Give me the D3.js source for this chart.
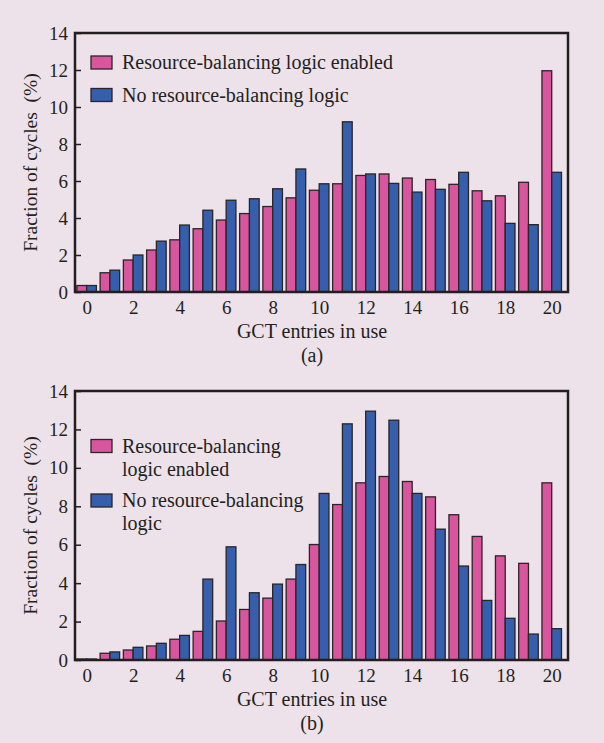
<!DOCTYPE html>
<html>
<head>
<meta charset="utf-8">
<script src="https://cdn.jsdelivr.net/npm/d3@7/dist/d3.min.js"></script>
<style>
  html, body { margin: 0; padding: 0; background: #ede2e9; }
  svg { display: block; }
  text { font-family: "Liberation Serif", "Times New Roman", serif; fill: #231f20; }
</style>
</head>
<body>
<svg id="chart" width="604" height="743"></svg>
<script>
// ---- Data ----
const categories = d3.range(0, 21); // GCT entries in use 0..20
const yTicks = [0, 2, 4, 6, 8, 10, 12, 14];
const xTicks = [0, 2, 4, 6, 8, 10, 12, 14, 16, 18, 20];

// Chart (a)
const aEnabled = [0.35, 1.04, 1.73, 2.27, 2.82, 3.42, 3.89, 4.24, 4.62, 5.09, 5.5,
                  5.85, 6.3, 6.38, 6.16, 6.08, 5.82, 5.47, 5.2, 5.93, 11.96];
const aNone    = [0.35, 1.18, 2.0, 2.75, 3.62, 4.42, 4.96, 5.04, 5.58, 6.65, 5.85,
                  9.2, 6.38, 5.87, 5.4, 5.55, 6.47, 4.93, 3.71, 3.64, 6.47];
// Chart (b)
const bEnabled = [0.05, 0.35, 0.52, 0.73, 1.08, 1.49, 2.03, 2.63, 3.22, 4.21, 6.01,
                  8.09, 9.22, 9.55, 9.29, 8.49, 7.56, 6.43, 5.42, 5.03, 9.22];
const bNone    = [0.05, 0.42, 0.66, 0.87, 1.28, 4.21, 5.89, 3.5, 3.95, 4.97, 8.67,
                  12.29, 12.95, 12.48, 8.67, 6.81, 4.89, 3.1, 2.17, 1.35, 1.63];

const seriesNames = ["Resource-balancing logic enabled", "No resource-balancing logic"];
const legendLinesA = [["Resource-balancing logic enabled"], ["No resource-balancing logic"]];
const legendLinesB = [["Resource-balancing", "logic enabled"], ["No resource-balancing", "logic"]];
const colors = ["#d9569f", "#355eac"];

const svg = d3.select("#chart");

function drawChart(cfg) {
  const g = svg.append("g");
  const x = d3.scaleLinear().domain([-0.5, 20.7]).range([cfg.left, cfg.right]);
  const y = d3.scaleLinear().domain([0, 14]).range([cfg.bottom, cfg.top]);
  const step = x(1) - x(0);
  const bw = step * 0.42;

  const series = [cfg.enabled, cfg.none];
  series.forEach((vals, si) => {
    g.append("g").selectAll("rect").data(categories).join("rect")
      .attr("x", d => si === 0 ? x(d) - bw : x(d))
      .attr("y", d => y(vals[d]))
      .attr("width", bw)
      .attr("height", d => y(0) - y(vals[d]))
      .attr("fill", colors[si])
      .attr("stroke", "#2a2526")
      .attr("stroke-width", 1.3);
  });

  // Y axis (ticks inside)
  const yAxis = d3.axisLeft(y).tickValues(yTicks).tickSize(-6).tickPadding(7);
  const ya = g.append("g").attr("transform", `translate(${cfg.left},0)`).call(yAxis);
  ya.select(".domain").remove();
  ya.selectAll("line").attr("stroke", "#231f20").attr("stroke-width", 1.5);
  ya.selectAll("text").attr("font-size", 19).attr("font-family", "Liberation Serif").attr("fill", "#231f20");

  // X axis labels
  const xAxis = d3.axisBottom(x).tickValues(xTicks).tickSize(0).tickPadding(9).tickFormat(d3.format("d"));
  const xa = g.append("g").attr("transform", `translate(0,${cfg.bottom})`).call(xAxis);
  xa.select(".domain").remove();
  xa.selectAll("text").attr("font-size", 19).attr("font-family", "Liberation Serif").attr("fill", "#231f20");

  // Frame
  g.append("rect")
    .attr("x", cfg.left).attr("y", cfg.top)
    .attr("width", cfg.right - cfg.left).attr("height", cfg.bottom - cfg.top)
    .attr("fill", "none").attr("stroke", "#231f20").attr("stroke-width", 2.5);

  // Axis titles
  g.append("text")
    .attr("transform", `translate(37,${(cfg.top + cfg.bottom) / 2}) rotate(-90)`)
    .attr("text-anchor", "middle").attr("font-size", 19.5)
    .style("white-space", "pre")
    .text("Fraction of cycles  (%)");
  g.append("text")
    .attr("x", 312).attr("y", cfg.bottom + 46)
    .attr("text-anchor", "middle").attr("font-size", 20)
    .text("GCT entries in use");
  g.append("text")
    .attr("x", 312).attr("y", cfg.bottom + 70)
    .attr("text-anchor", "middle").attr("font-size", 20)
    .text(cfg.label);

  // Legend
  cfg.legend.forEach((lines, i) => {
    const cy = cfg.legendY[i];
    g.append("rect")
      .attr("x", 91).attr("y", cy - 6.5).attr("width", 21).attr("height", 13)
      .attr("fill", colors[i]).attr("stroke", "#2a2526").attr("stroke-width", 1.3);
    lines.forEach((ln, j) => {
      g.append("text")
        .attr("x", 122).attr("y", cy + 6.5 + j * cfg.lineH)
        .attr("font-size", 20)
        .text(ln);
    });
  });
}

drawChart({
  top: 33, bottom: 292, left: 75, right: 568,
  enabled: aEnabled, none: aNone, label: "(a)",
  legend: legendLinesA, legendY: [62.5, 95], lineH: 0
});
drawChart({
  top: 391, bottom: 660, left: 75, right: 568,
  enabled: bEnabled, none: bNone, label: "(b)",
  legend: legendLinesB, legendY: [446, 500.5], lineH: 23
});
</script>
</body>
</html>
